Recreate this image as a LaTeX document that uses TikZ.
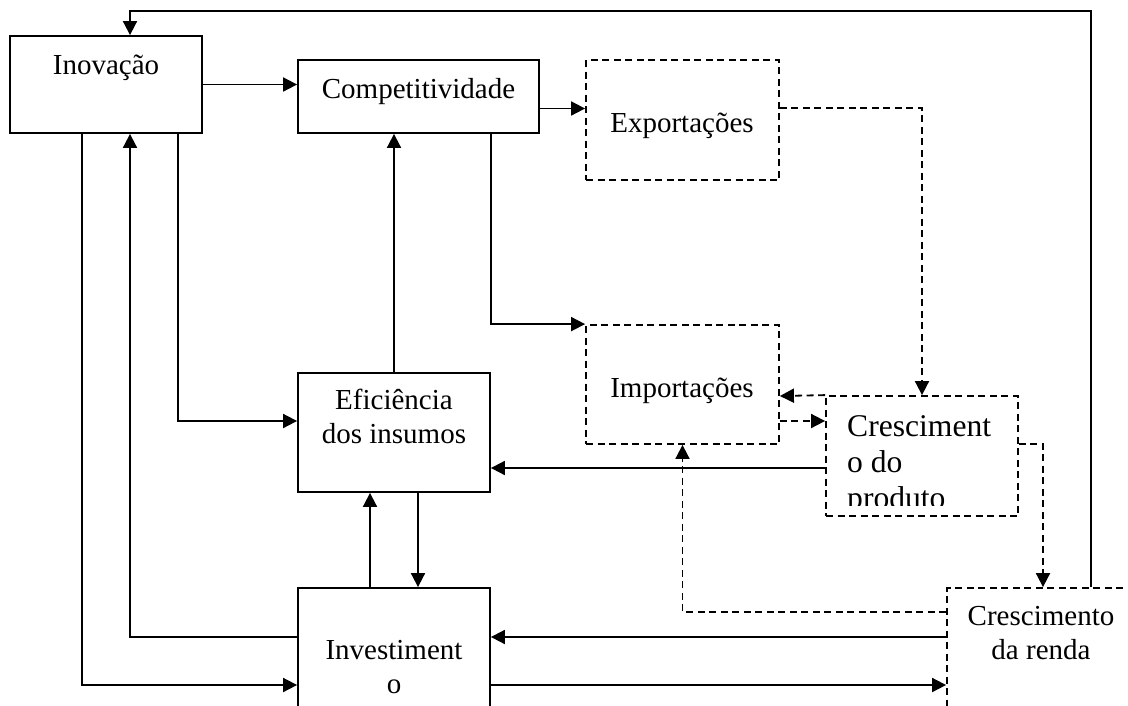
\documentclass[tikz,border=0pt]{standalone}
\usepackage{fontspec}
\setmainfont{Liberation Serif}
\usetikzlibrary{arrows.meta,calc}

\begin{document}
\begin{tikzpicture}[x=1pt,y=1pt,yscale=-1,xscale=1,
  caixa/.style={draw, line width=1.8pt, inner sep=0pt},
  caixatr/.style={caixa, dash pattern=on 7pt off 4.5pt},
  seta/.style={line width=1.8pt, -{Triangle[length=14pt,width=14pt]}},
  setatr/.style={seta, dash pattern=on 7pt off 4.5pt},
  texto/.style={inner sep=0pt, align=center, font=\fontsize{29}{33.5}\selectfont}]
\clip (0,0) rectangle (1128,705);

%Shape: Rectangle
\node[caixa, minimum width=192pt, minimum height=97pt] (inov) at (106,84.5) {};
\node[caixa, minimum width=241pt, minimum height=73pt] (comp) at (418.5,96.5) {};
\node[caixatr, minimum width=193pt, minimum height=120pt] (expo) at (682.5,120) {};
\node[caixatr, minimum width=193pt, minimum height=119pt] (impo) at (682.5,384.5) {};
\node[caixa, minimum width=192pt, minimum height=119pt] (efic) at (394,432.5) {};
\node[caixatr, minimum width=192pt, minimum height=120pt] (prod) at (922,456) {};
\node[caixa, minimum width=192pt, minimum height=137pt] (inve) at (394,656.5) {};
\node[caixatr, minimum width=192pt, minimum height=137pt] (renda) at (1043,656.5) {};

% Text Node (base = last line)
\node[texto, anchor=base] (inov-t) at (106,74) {Inovação};
\node[texto, anchor=base] (comp-t) at (418.5,98) {Competitividade};
\node[texto, anchor=base] (expo-t) at (682,132) {Exportações};
\node[texto, anchor=base] (impo-t) at (682,397) {Importações};
\node[texto, anchor=base] (efic-t) at (394,443) {Eficiência\\dos insumos};
\node[texto, anchor=base] (inve-t) at (394,693) {Investiment\\o};
\node[texto, anchor=base] (renda-t) at (1041,659) {Crescimento\\da renda};
\begin{scope}
\clip (826,396) rectangle (1018,505);
\node[texto, anchor=base west, align=left, font=\fontsize{31.6}{36}\selectfont] (prod-t) at (847,508) {Cresciment\\o do\\produto};
\end{scope}

%Shape: Arrows (solid)
\draw[seta] ($(renda.north)+(48,0)$) |- ($(inov.north)+(24,-24)$) -- ($(inov.north)+(24,0)$);
\draw[seta] (inov.east) -- (inov.east -| comp.west);
\draw[seta] (comp.east) ++(0,12) coordinate (ce) -- (ce -| expo.west);
\draw[seta] (comp.south) ++(72.5,0) |- (impo.north west);
\draw[seta] (inov.south) ++(72,0) |- ($(efic.west)+(0,-11.5)$);
\draw[seta] (inov.south) ++(-24,0) |- ($(inve.west)+(0,28.5)$);
\draw[seta] ($(inve.west)+(0,-19.5)$) -| ($(inov.south)+(24,0)$);
\draw[seta] (efic.north) -- (efic.north |- comp.south);
\draw[seta] ($(prod.west)+(0,12)$) -- ($(efic.east)+(0,35.5)$);
\draw[seta] ($(inve.north)+(-24,0)$) -- ($(efic.south)+(-24,0)$);
\draw[seta] ($(efic.south)+(24,0)$) -- ($(inve.north)+(24,0)$);
\draw[seta] ($(renda.west)+(0,-19.5)$) -- ($(inve.east)+(0,-19.5)$);
\draw[seta] ($(inve.east)+(0,28.5)$) -- ($(renda.west)+(0,28.5)$);

%Shape: Arrows (dashed)
\draw[setatr] (expo.east) ++(0,-12) -| (prod.north);
\draw[setatr] (prod.north west) -- ($(impo.east)+(0,11.5)$);
\draw[setatr] ($(impo.east)+(0,36.5)$) -- ($(prod.west)+(0,-35)$);
\draw[setatr] ($(prod.east)+(0,-12)$) -| (renda.north);
\draw[setatr] ($(renda.west)+(0,-44.5)$) -| (impo.south);
\end{tikzpicture}
\end{document}
